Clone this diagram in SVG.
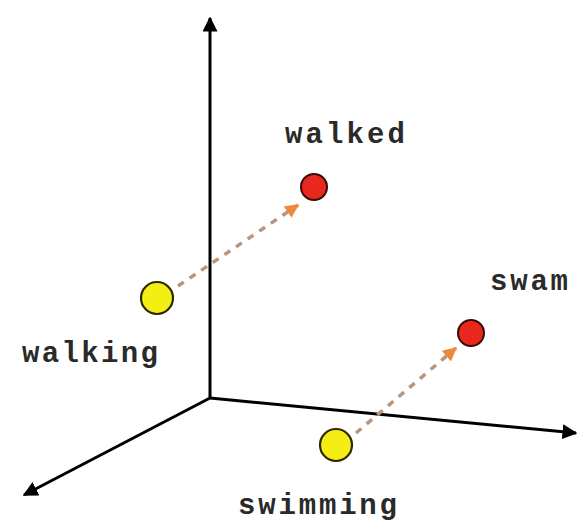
<svg xmlns="http://www.w3.org/2000/svg" width="579" height="524" viewBox="0 0 579 524">
<style>
.axis{stroke:#000;stroke-width:3;fill:none}
.dash{stroke:#b8957c;stroke-width:3.5;stroke-dasharray:7,7;fill:none}
.red{fill:#e8281c;stroke:#3a0a08;stroke-width:2}
.yel{fill:#f4ee14;stroke:#2a2a00;stroke-width:2.2}
.lbl{font-family:"Liberation Mono","DejaVu Sans Mono",monospace;font-size:29px;font-weight:bold;fill:#2a2a2a}
</style>
<defs>
<marker id="ah" viewBox="0 0 10 10" refX="9" refY="5" markerWidth="5" markerHeight="5" orient="auto" markerUnits="strokeWidth">
<path d="M0,0 L10,5 L0,10 z" fill="#000"/>
</marker>
<marker id="oh" viewBox="0 0 10 10" refX="9" refY="5" markerWidth="4" markerHeight="4" orient="auto" markerUnits="strokeWidth">
<path d="M0,0 L10,5 L0,10 z" fill="#ee8a3a"/>
</marker>
</defs>
<g id="axes">
<line class="axis" x1="210" y1="398" x2="210" y2="18" marker-end="url(#ah)"/>
<line class="axis" x1="210" y1="398" x2="576" y2="433" marker-end="url(#ah)"/>
<line class="axis" x1="210" y1="398" x2="24" y2="495" marker-end="url(#ah)"/>
</g>
<g id="connectors">
<line class="dash" x1="178" y1="286" x2="298" y2="205" marker-end="url(#oh)"/>
<line class="dash" x1="356" y1="433" x2="456" y2="348" marker-end="url(#oh)"/>
</g>
<g id="walking">
<circle class="yel" cx="157" cy="298" r="16"/>
<text class="lbl" x="22" y="362" textLength="136" lengthAdjust="spacing">walking</text>
</g>
<g id="walked">
<circle class="red" cx="314" cy="187" r="13"/>
<text class="lbl" x="285" y="143" textLength="120" lengthAdjust="spacing">walked</text>
</g>
<g id="swimming">
<circle class="yel" cx="336" cy="445" r="16"/>
<text class="lbl" x="238" y="514" textLength="159" lengthAdjust="spacing">swimming</text>
</g>
<g id="swam">
<circle class="red" cx="471" cy="333" r="13"/>
<text class="lbl" x="490" y="290" textLength="78" lengthAdjust="spacing">swam</text>
</g>
</svg>
